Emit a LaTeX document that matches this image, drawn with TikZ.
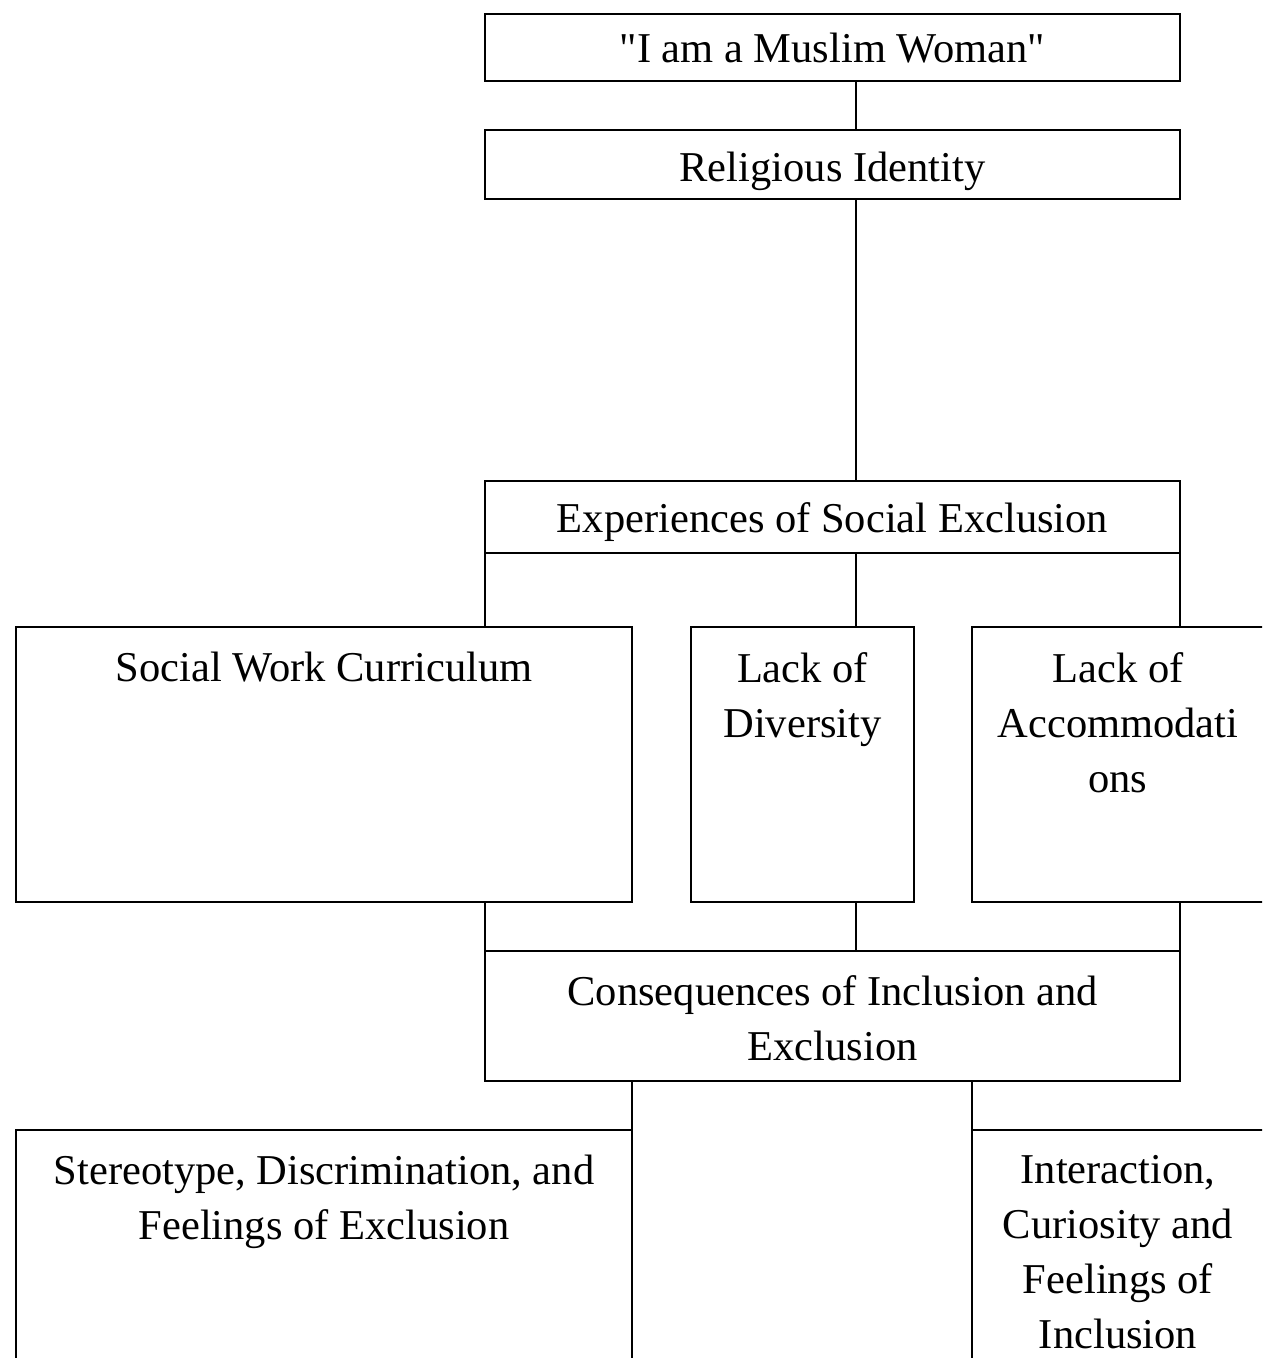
\documentclass[tikz,border=0pt]{standalone}
\usepackage{fontspec}
\setmainfont{Liberation Serif}[Ligatures=TeXOff]
\begin{document}
\begin{tikzpicture}[x=1pt,y=-1pt,
  box/.style={draw, line width=2.5pt, rectangle, inner sep=0pt, outer sep=0pt, anchor=north west},
  lbl/.style={font=\fontsize{42.5}{55}\selectfont, align=center, inner sep=0pt, outer sep=0pt, anchor=north,
    execute at begin node={\rule{0pt}{36pt}}},
  conn/.style={line width=2.5pt}]
\useasboundingbox (0,0) rectangle (1262,1358);
\fill[white] (0,0) rectangle (1262,1358);
\clip (0,0) rectangle (1262,1358);
% boxes
\node[box, minimum width=695pt, minimum height=67pt] (A) at (485,14) {};
\node[box, minimum width=695pt, minimum height=69pt] (B) at (485,130) {};
\node[box, minimum width=695pt, minimum height=72pt] (C) at (485,481) {};
\node[box, minimum width=616pt, minimum height=275pt] (swc) at (16,627) {};
\node[box, minimum width=223pt, minimum height=275pt] (ld) at (691,627) {};
\node[box, minimum width=292pt, minimum height=275pt] (la) at (972,627) {};
\node[box, minimum width=695pt, minimum height=130pt] (D) at (485,951) {};
\node[box, minimum width=616pt, minimum height=300pt] (st) at (16,1130) {};
\node[box, minimum width=292pt, minimum height=300pt] (in) at (972,1130) {};
% labels
\node[lbl] (tA) at (832.5,26) {"I am a Muslim Woman"};
\node[lbl] (tB) at (832.5,145) {Religious Identity};
\node[lbl] (tC) at (832.5,496) {Experiences of Social Exclusion};
\node[lbl] (tswc) at (324,645) {Social Work Curriculum};
\node[lbl] (tld) at (802.5,653) {Lack of\\Diversity};
\node[lbl] (tla) at (1118,653) {Lack of\\Accommodati\\ons};
\node[lbl] (tD) at (832.5,976) {Consequences of Inclusion and\\Exclusion};
\node[lbl] (tst) at (324,1155) {Stereotype, Discrimination, and\\Feelings of Exclusion};
\node[lbl] (tin) at (1118,1155) {Interaction,\\Curiosity and\\Feelings of\\Inclusion};
% connectors
\coordinate (sp) at (856,0);
\draw[conn] (A.south -| sp) -- (B.north -| sp);
\draw[conn] (B.south -| sp) -- (C.north -| sp);
\draw[conn] (C.south west) -- (C.south west |- swc.north);
\draw[conn] (C.south -| sp) -- (ld.north -| sp);
\draw[conn] (C.south east) -- (C.south east |- la.north);
\draw[conn] (swc.south -| D.north west) -- (D.north west);
\draw[conn] (ld.south -| sp) -- (D.north -| sp);
\draw[conn] (la.south -| D.north east) -- (D.north east);
\draw[conn] (D.south -| st.north east) -- (st.north east);
\draw[conn] (D.south -| in.north west) -- (in.north west);
\end{tikzpicture}
\end{document}
